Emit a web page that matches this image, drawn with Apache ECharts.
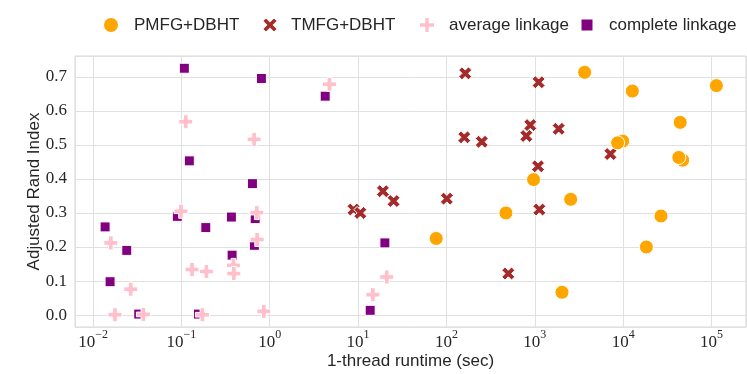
<!DOCTYPE html>
<html>
<head>
<meta charset="utf-8">
<script src="https://cdn.jsdelivr.net/npm/echarts@6/dist/echarts.min.js"></script>
<style>
  html, body { margin: 0; padding: 0; background: #fff; }
  #chart { width: 747px; height: 374px; }
</style>
</head>
<body>
<div id="chart"></div>
<script>
// runtimes (sec) and ARI per method
var pmfgX = [3664, 12700, 113500, 44200, 9870, 8650, 47200, 42600, 968, 2546, 26800, 18300, 2030, 76.6, 471];
var pmfgY = [0.713, 0.658, 0.674, 0.566, 0.511, 0.506, 0.455, 0.463, 0.398, 0.340, 0.291, 0.200, 0.067, 0.225, 0.300];

var tmfgX = [163, 159, 251, 19.1, 25.2, 101, 8.87, 10.6, 501, 1104, 889, 802, 1862, 7170, 1087, 1125];
var tmfgY = [0.710, 0.522, 0.509, 0.364, 0.335, 0.342, 0.310, 0.300, 0.122, 0.684, 0.558, 0.526, 0.547, 0.473, 0.437, 0.310];

var avgX = [0.112, 0.665, 0.099, 0.714, 0.0159, 0.72, 0.132, 0.192, 0.388, 0.392, 0.0267, 0.0177, 0.0372, 0.173, 0.857, 4.74, 21.1, 14.7];
var avgY = [0.568, 0.516, 0.305, 0.301, 0.212, 0.222, 0.134, 0.128, 0.146, 0.122, 0.076, 0.001, 0.002, 0.001, 0.011, 0.678, 0.112, 0.060];

var compX = [0.108, 0.805, 0.123, 0.637, 0.368, 0.090, 0.684, 0.189, 0.0137, 0.0241, 0.375, 0.670, 0.0156, 0.0329, 0.156, 4.24, 20.1, 13.7];
var compY = [0.725, 0.695, 0.453, 0.386, 0.288, 0.290, 0.2835, 0.257, 0.259, 0.190, 0.176, 0.205, 0.098, 0.003, 0.003, 0.643, 0.212, 0.014];

var yTicks = [0, 0.1, 0.2, 0.3, 0.4, 0.5, 0.6, 0.7];

var names = ['PMFG+DBHT', 'TMFG+DBHT', 'average linkage', 'complete linkage'];
var colors = ['#FFA500', '#A52A2A', '#FFC0CB', '#800080'];

var X_PATH = 'path://M1,0L2,1L3,0L4,1L3,2L4,3L3,4L2,3L1,4L0,3L1,2L0,1Z';
var P_PATH = 'path://M2,0H4V2H6V4H4V6H2V4H0V2H2Z';
var S_PATH = 'path://M0,0H1V1H0Z';

function zip(xs, ys) {
  var out = [];
  for (var i = 0; i < xs.length; i++) out.push([xs[i], ys[i]]);
  return out;
}

var textCol = '#262626';
var sans = 'Liberation Sans';
var serif = 'Liberation Serif';

function mkSeries(name, color, symbol, size, data) {
  return {
    name: name,
    type: 'scatter',
    symbol: symbol,
    symbolSize: size,
    data: data,
    itemStyle: { color: color, borderColor: '#fff', borderWidth: 1, opacity: 1 },
    emphasis: { disabled: true }
  };
}

// cx: icon centre, tx: where the text starts
function mkLegend(name, icon, cx, tx, h) {
  return {
    data: [{ name: name, icon: icon }],
    left: cx - h / 2,
    top: 16,
    padding: 0,
    itemWidth: h,
    itemHeight: h,
    itemGap: 0,
    selectedMode: false,
    textStyle: {
      fontFamily: sans, fontSize: 17, color: textCol, lineHeight: 18,
      padding: [0, 0, 0, tx - cx - h / 2 - 5]
    }
  };
}

var chart = echarts.init(document.getElementById('chart'));
var option = {
  animation: false,
  backgroundColor: '#fff',
  legend: [
    mkLegend(names[0], 'circle', 110, 133, 16),
    mkLegend(names[1], X_PATH, 269, 290, 16),
    mkLegend(names[2], P_PATH, 426, 448, 16),
    mkLegend(names[3], S_PATH, 586, 608, 13)
  ],
  grid: {
    left: 75, right: 1, top: 56, bottom: 47,
    outerBoundsMode: 'none',
    containLabel: false,
    show: true, borderColor: '#d6d6d6', borderWidth: 1, backgroundColor: '#fff'
  },
  xAxis: {
    type: 'log',
    logBase: 10,
    min: Math.pow(10, -2.204),
    max: Math.pow(10, 5.39),
    name: '1-thread runtime (sec)',
    nameLocation: 'middle',
    nameGap: 26,
    nameMoveOverlap: false,
    nameTextStyle: { fontFamily: sans, fontSize: 17, color: textCol },
    axisLine: { show: false },
    axisTick: { show: false },
    splitLine: { show: true, lineStyle: { color: '#e0e0e0', width: 1 } },
    axisLabel: {
      margin: 2,
      showMinLabel: false,
      showMaxLabel: false,
      formatter: function (v) {
        var e = Math.round(Math.log(v) / Math.LN10);
        var s = e < 0 ? '\u2212' + (-e) : '' + e;
        return '{b|10}{s|' + s + '}';
      },
      rich: {
        b: { fontFamily: serif, fontSize: 17, color: textCol, lineHeight: 22, verticalAlign: 'bottom' },
        s: { fontFamily: serif, fontSize: 12, color: textCol, lineHeight: 12, verticalAlign: 'top' }
      }
    }
  },
  yAxis: {
    type: 'value',
    min: -0.035,
    max: 0.761,
    splitNumber: 8,
    name: 'Adjusted Rand Index',
    nameLocation: 'middle',
    nameGap: 32,
    nameMoveOverlap: false,
    nameTextStyle: { fontFamily: sans, fontSize: 17, color: textCol },
    axisLine: { show: false },
    axisTick: { show: false },
    splitLine: { show: true, lineStyle: { color: '#e0e0e0', width: 1 } },
    axisLabel: {
      margin: 8,
      showMinLabel: false,
      showMaxLabel: false,
      fontFamily: serif,
      fontSize: 17,
      color: textCol,
      formatter: function (v) {
        if (yTicks.indexOf(Math.round(v * 10) / 10) < 0) return '';
        return v.toFixed(1);
      }
    }
  },
  series: [
    mkSeries(names[3], colors[3], S_PATH, 10, zip(compX, compY)),
    mkSeries(names[2], colors[2], P_PATH, 14, zip(avgX, avgY)),
    mkSeries(names[1], colors[1], X_PATH, 13, zip(tmfgX, tmfgY)),
    mkSeries(names[0], colors[0], 'circle', 14, zip(pmfgX, pmfgY))
  ]
};
chart.setOption(option);
</script>
</body>
</html>
